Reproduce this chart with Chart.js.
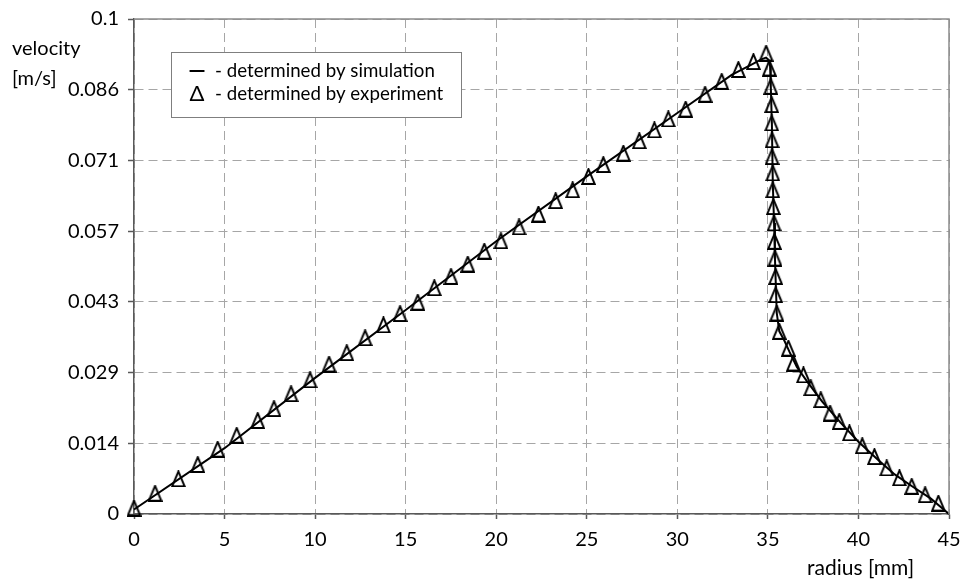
<!DOCTYPE html>
<html>
<head>
<meta charset="utf-8">
<script src="https://cdn.jsdelivr.net/npm/chart.js@4.4.1/dist/chart.umd.min.js"></script>
<style>
  html, body { margin: 0; padding: 0; background: #fff; }
  #wrap { width: 961px; height: 581px; position: relative; }
</style>
</head>
<body>
<div id="wrap"><canvas id="chart"></canvas></div>
<script>
// radius [mm] / velocity [m/s]
const simX = [0, 5, 10, 15, 20, 25, 30, 33, 34.2, 34.6, 34.9, 35.05, 35.12, 35.16, 35.22, 35.27, 35.34, 35.39, 35.44, 35.49, 35.63, 35.9, 36.2, 36.6, 37.2, 38, 39, 40, 41, 42, 43, 44, 45]
const simY = [0.0009, 0.0133, 0.0275, 0.0412, 0.0551, 0.0682, 0.0810, 0.0887, 0.0910, 0.0918, 0.0922, 0.0917, 0.0905, 0.0864, 0.0790, 0.0670, 0.0588, 0.0517, 0.0460, 0.0406, 0.0369, 0.0351, 0.0327, 0.0297, 0.0266, 0.0227, 0.0185, 0.0146, 0.0112, 0.0080, 0.0055, 0.0031, 0]

const expX = [0, 1.16, 2.45, 3.52, 4.62, 5.67, 6.83, 7.73, 8.67, 9.72, 10.77, 11.75, 12.76, 13.77, 14.69, 15.67, 16.58, 17.50, 18.43, 19.34, 20.26, 21.26, 22.33, 23.28, 24.22, 25.09, 25.91, 27.02, 27.90, 28.73, 29.50, 30.46, 31.53, 32.45, 33.37, 34.20, 34.90, 35.08, 35.16, 35.21, 35.21, 35.23, 35.23, 35.27, 35.27, 35.30, 35.34, 35.36, 35.39, 35.43, 35.43, 35.49, 35.63, 36.13, 36.41, 36.96, 37.37, 37.92, 38.43, 38.94, 39.50, 40.21, 40.88, 41.56, 42.26, 42.94, 43.68, 44.41]
const expY = [0.0012, 0.0042, 0.0071, 0.0100, 0.0131, 0.0159, 0.0189, 0.0213, 0.0243, 0.0271, 0.0303, 0.0326, 0.0356, 0.0382, 0.0405, 0.0428, 0.0457, 0.0480, 0.0505, 0.0531, 0.0552, 0.0580, 0.0606, 0.0633, 0.0655, 0.0682, 0.0706, 0.0729, 0.0754, 0.0776, 0.0798, 0.0818, 0.0848, 0.0874, 0.0898, 0.0914, 0.0931, 0.0901, 0.0864, 0.0827, 0.0790, 0.0756, 0.0722, 0.0689, 0.0655, 0.0621, 0.0588, 0.0551, 0.0517, 0.0480, 0.0443, 0.0406, 0.0369, 0.0335, 0.0305, 0.0281, 0.0255, 0.0231, 0.0204, 0.0187, 0.0164, 0.0138, 0.0116, 0.0093, 0.0073, 0.0056, 0.0039, 0.0022]

const xTicks = [0, 5, 10, 15, 20, 25, 30, 35, 40, 45]
const yTickLabels = ['0', '0.014', '0.029', '0.043', '0.057', '0.071', '0.086', '0.1']
const Y_MAX = 0.1

const legendItems = [
    { symbol: '\u2014', text: '- determined by simulation' },
    { symbol: '\u0394', text: '- determined by experiment' }
]

const FONT = 'Lato, "Open Sans", sans-serif'

// open triangle marker, a bit taller than equilateral like the original
function makeTriangle() {
    const c = document.createElement('canvas')
    c.width = 15
    c.height = 17
    const g = c.getContext('2d')
    g.strokeStyle = '#000'
    g.lineWidth = 2
    g.lineJoin = 'miter'
    g.beginPath()
    g.moveTo(7.5, 1.2)
    g.lineTo(13.7, 15.9)
    g.lineTo(1.3, 15.9)
    g.closePath()
    g.stroke()
    return c
}

const toPoints = (xs, ys) => xs.map((x, i) => ({ x, y: ys[i] }))

const decorPlugin = {
    id: 'decor',
    afterDraw(chart) {
        const { ctx, chartArea: a } = chart
        ctx.save()
        // top / right frame of the plot area
        ctx.strokeStyle = '#8c8c8c'
        ctx.lineWidth = 1.5
        ctx.beginPath()
        ctx.moveTo(a.left, a.top)
        ctx.lineTo(a.right, a.top)
        ctx.lineTo(a.right, a.bottom)
        ctx.stroke()

        // axis titles
        ctx.fillStyle = '#000'
        ctx.font = '20px ' + FONT
        ctx.textBaseline = 'middle'
        ctx.textAlign = 'left'
        ctx.fillText('velocity', 12, 49)
        ctx.fillText('[m/s]', 12, 79)
        ctx.font = '21px ' + FONT
        ctx.fillText('radius [mm]', 807, 568)

        // legend box
        ctx.fillStyle = '#fff'
        ctx.fillRect(171.5, 52.5, 290, 65)
        ctx.strokeStyle = '#7f7f7f'
        ctx.lineWidth = 1
        ctx.strokeRect(171.5, 52.5, 290, 65)
        ctx.fillStyle = '#000'
        legendItems.forEach((item, i) => {
            const y = 70.5 + i * 23.5
            ctx.textAlign = 'center'
            ctx.font = (i === 0 ? 'bold 22px ' : '22px ') + FONT
            ctx.fillText(item.symbol, 197, y)
            ctx.textAlign = 'left'
            ctx.font = '18.7px ' + FONT
            ctx.fillText(item.text, 215, y)
        })
        ctx.restore()
    }
}

const ctx = document.getElementById('chart').getContext('2d')
new Chart(ctx, {
    type: 'scatter',
    data: {
        datasets: [
            {
                label: 'determined by experiment',
                data: toPoints(expX, expY),
                showLine: false,
                pointStyle: makeTriangle(),
                pointRadius: 7,
                clip: false
            },
            {
                label: 'determined by simulation',
                data: toPoints(simX, simY),
                showLine: true,
                borderColor: '#000',
                borderWidth: 2,
                pointRadius: 0,
                tension: 0,
                clip: false
            }
        ]
    },
    options: {
        responsive: true,
        maintainAspectRatio: false,
        animation: false,
        layout: { padding: { left: 0, right: 12, top: 19, bottom: 0 } },
        plugins: {
            legend: { display: false },
            tooltip: { enabled: false }
        },
        scales: {
            x: {
                type: 'linear',
                min: 0,
                max: 45,
                afterBuildTicks: scale => {
                    scale.ticks = xTicks.map(v => ({ value: v }))
                },
                afterFit: scale => {
                    scale.height = 67
                    scale.paddingLeft = 0
                    scale.paddingRight = 0
                },
                ticks: {
                    color: '#000',
                    font: { family: FONT, size: 20 },
                    padding: 9,
                    maxRotation: 0
                },
                grid: {
                    color: '#a6a6a6',
                    lineWidth: 1,
                    tickLength: 5,
                    tickColor: '#595959',
                    tickWidth: 1.5
                },
                border: { color: '#595959', width: 1.5, dash: [9, 5] }
            },
            y: {
                type: 'linear',
                min: 0,
                max: Y_MAX,
                afterBuildTicks: scale => {
                    scale.ticks = yTickLabels.map((_, i) => ({ value: i * Y_MAX / (yTickLabels.length - 1) }))
                },
                afterFit: scale => {
                    scale.width = 134
                    scale.paddingTop = 0
                    scale.paddingBottom = 0
                },
                ticks: {
                    color: '#000',
                    font: { family: FONT, size: 20 },
                    padding: 9,
                    callback: (value, index) => yTickLabels[index]
                },
                grid: {
                    color: '#a6a6a6',
                    lineWidth: 1,
                    tickLength: 6,
                    tickColor: '#595959',
                    tickWidth: 1.5
                },
                border: { color: '#595959', width: 1.5, dash: [9, 5] }
            }
        }
    },
    plugins: [decorPlugin]
})
</script>
</body>
</html>
